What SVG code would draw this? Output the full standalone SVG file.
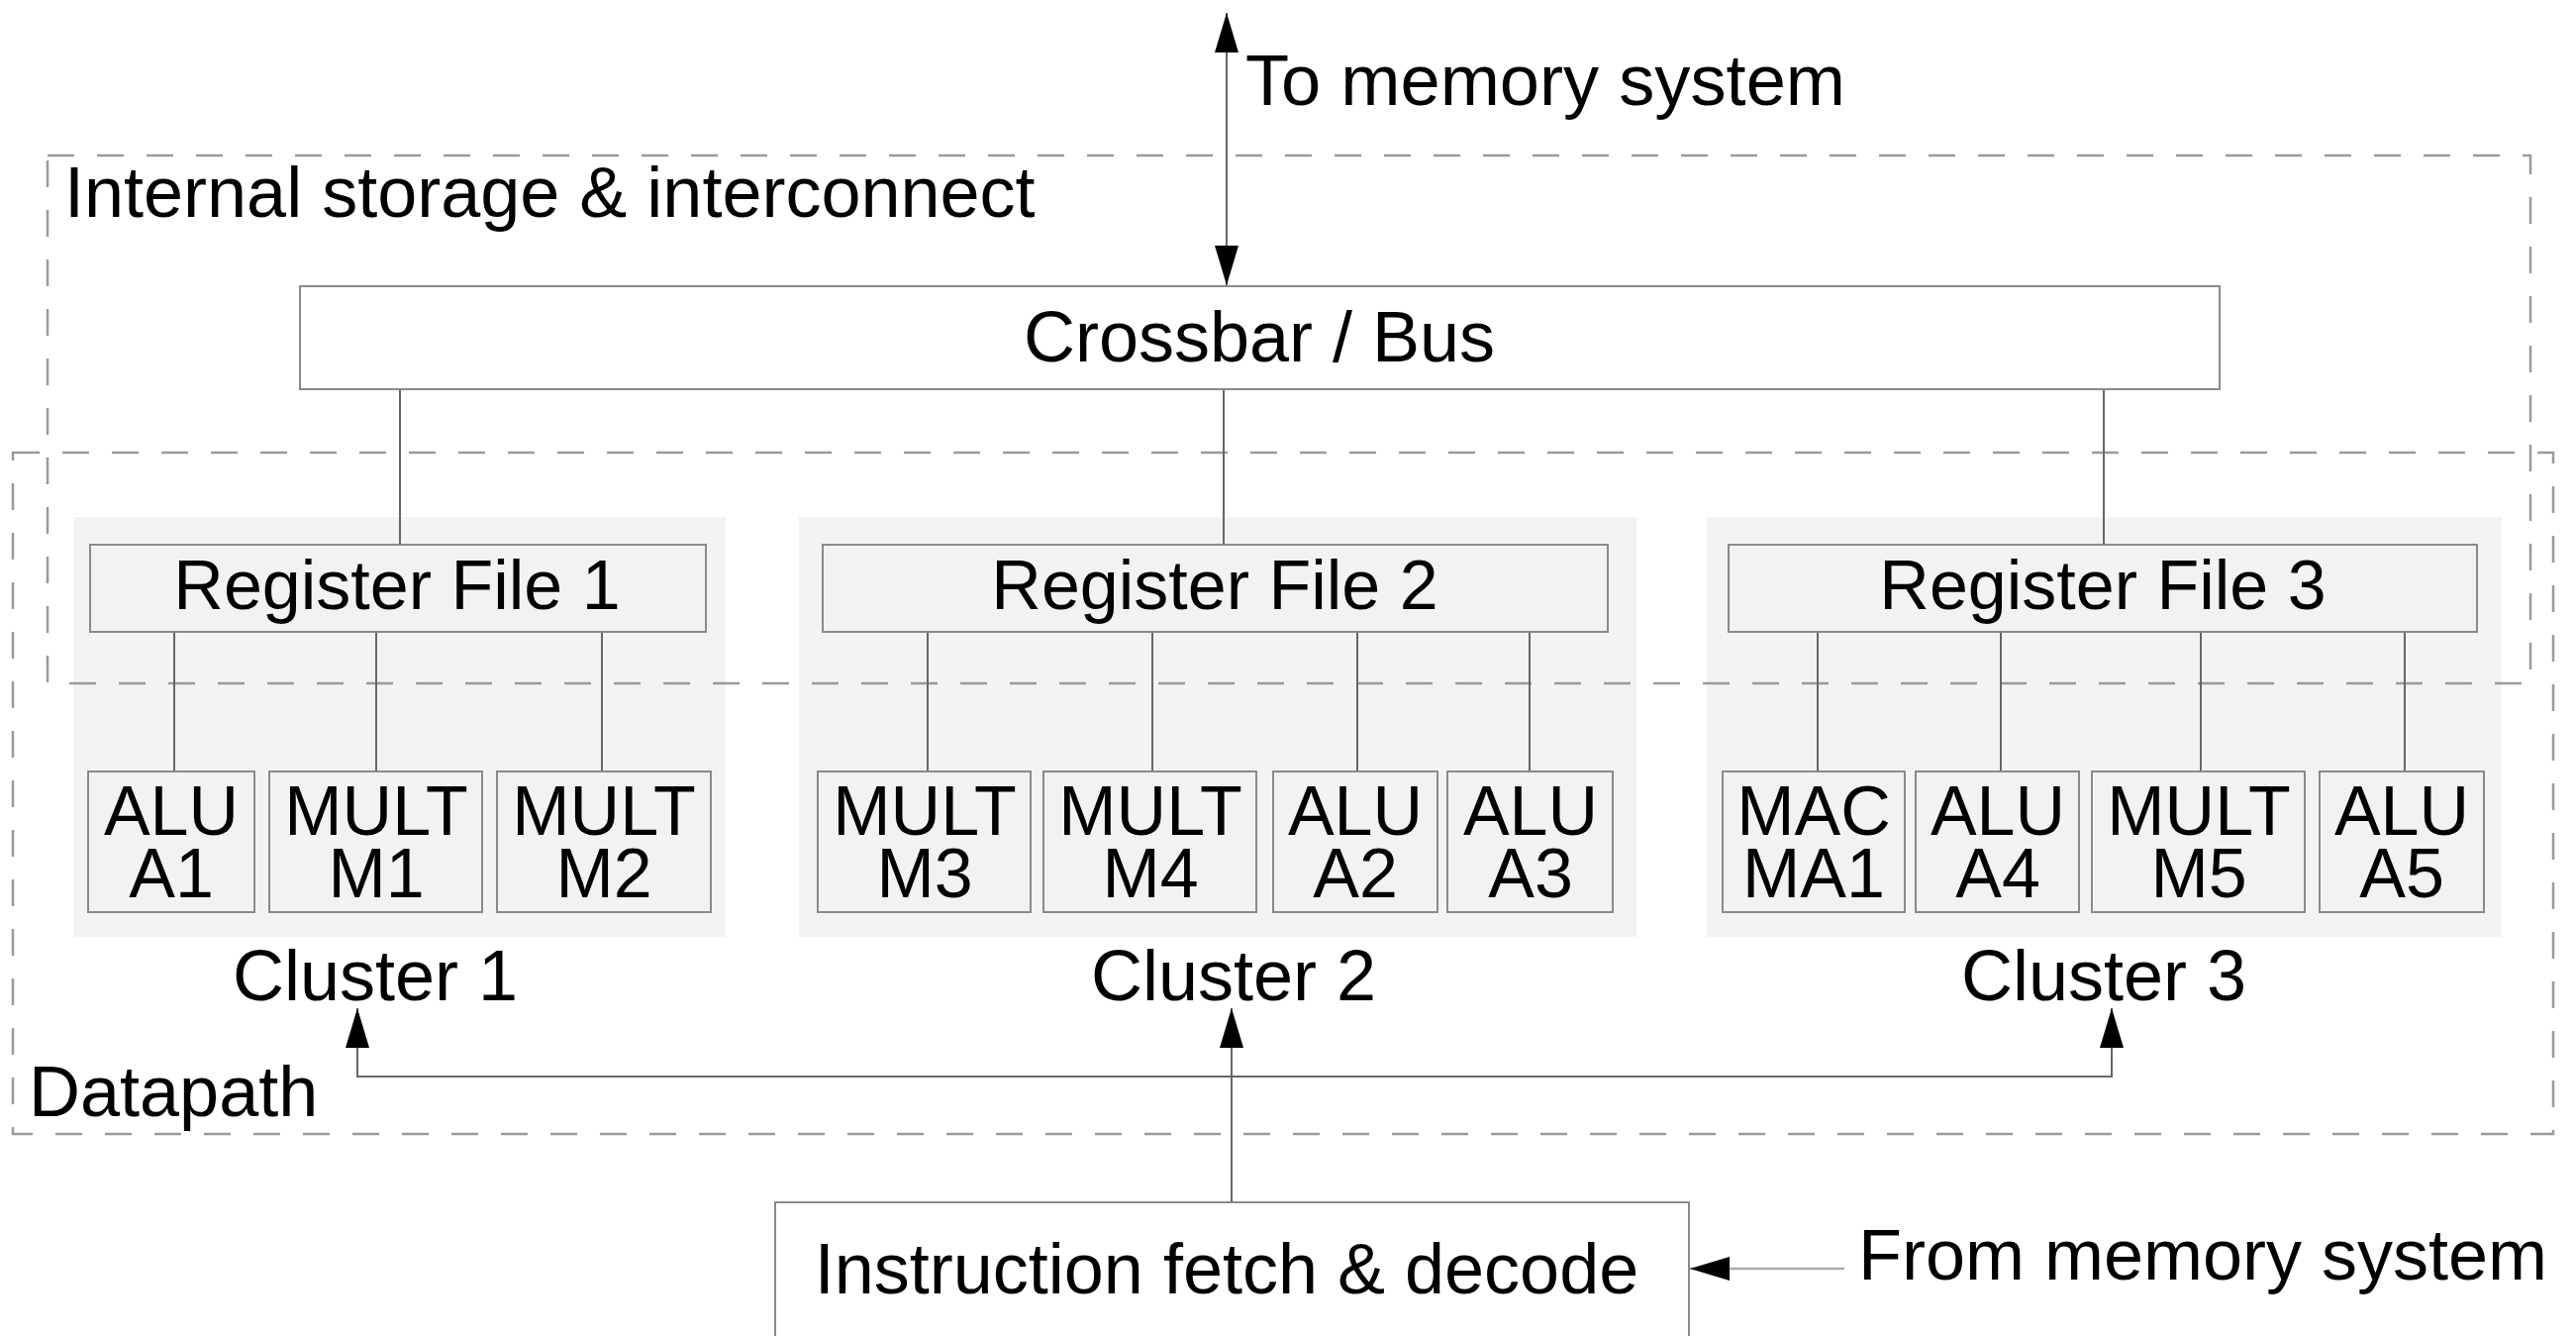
<svg xmlns="http://www.w3.org/2000/svg" width="2602" height="1349" viewBox="0 0 2602 1349">
<style>
text { font-family: "Liberation Sans", Arial, Helvetica, sans-serif; font-size: 72px; fill: #000; }
.m { text-anchor: middle; }
.fu { font-size: 70px; text-anchor: middle; }
.rf { font-size: 70px; text-anchor: middle; }
.dash { fill: none; stroke: #9a9a9a; stroke-width: 2.5; stroke-dasharray: 27 23; }
.bg { fill: #f3f3f3; stroke: none; }
.box { fill: #f2f2f2; stroke: #8a8a8a; stroke-width: 2; }
.wbox { fill: #ffffff; stroke: #8a8a8a; stroke-width: 2; }
.wire { fill: none; stroke: #666; stroke-width: 2; }
.light { fill: none; stroke: #aaa; stroke-width: 2.5; }
</style>
<defs>
<marker id="ah" markerUnits="userSpaceOnUse" markerWidth="40" markerHeight="24" refX="40" refY="12" orient="auto-start-reverse">
<path d="M0,0 L40,12 L0,24 Z" fill="#000"/>
</marker>
</defs>
<rect width="2602" height="1349" fill="#fff"/>

<g id="cluster1">
<rect class="bg" x="74" y="522" width="659" height="424"/>
<text class="m" x="379" y="1010">Cluster 1</text>
</g>
<g id="cluster2">
<rect class="bg" x="807" y="522" width="846" height="424"/>
<text class="m" x="1246" y="1010">Cluster 2</text>
</g>
<g id="cluster3">
<rect class="bg" x="1724" y="522" width="803" height="424"/>
<text class="m" x="2125" y="1010">Cluster 3</text>
</g>

<g id="internal-storage">
<rect class="dash" x="48" y="157" width="2508" height="533"/>
<text x="65" y="219">Internal storage &amp; interconnect</text>
</g>

<g id="datapath">
<rect class="dash" x="13" y="457" width="2566" height="688"/>
<text x="29" y="1127">Datapath</text>
</g>

<g id="connectors">
<path class="wire" d="M1239,288 V13" marker-start="url(#ah)" marker-end="url(#ah)"/>
<path class="wire" d="M404,393 V550 M1236,393 V550 M2125,393 V550"/>
<path class="wire" d="M176,638 V779 M380,638 V779 M608,638 V779"/>
<path class="wire" d="M937,638 V779 M1164,638 V779 M1371,638 V779 M1545,638 V779"/>
<path class="wire" d="M1836,638 V779 M2021,638 V779 M2223,638 V779 M2429,638 V779"/>
<path class="wire" d="M1244,1214 V1018" marker-end="url(#ah)"/>
<path class="wire" d="M1244,1087 H361 V1018" marker-end="url(#ah)"/>
<path class="wire" d="M1244,1087 H2133 V1018" marker-end="url(#ah)"/>
<path class="light" d="M1863,1281 H1707" marker-end="url(#ah)"/>
</g>

<g id="to-memory">
<text x="1258" y="106" textLength="606" lengthAdjust="spacingAndGlyphs">To memory system</text>
</g>

<g id="crossbar">
<rect class="wbox" x="303" y="289" width="1939" height="104"/>
<text class="m" x="1272" y="365">Crossbar / Bus</text>
</g>

<g id="rf1">
<rect class="box" x="91" y="550" width="622" height="88"/>
<text class="rf" x="401" y="615">Register File 1</text>
</g>
<g id="rf2">
<rect class="box" x="831" y="550" width="793" height="88"/>
<text class="rf" x="1227" y="615">Register File 2</text>
</g>
<g id="rf3">
<rect class="box" x="1746" y="550" width="756" height="88"/>
<text class="rf" x="2124" y="615">Register File 3</text>
</g>

<g id="alu-a1">
<rect class="box" x="89" y="779" width="168" height="142"/>
<text class="fu"><tspan x="173" y="843">ALU</tspan><tspan x="173" y="906">A1</tspan></text>
</g>
<g id="mult-m1">
<rect class="box" x="272" y="779" width="215" height="142"/>
<text class="fu"><tspan x="380" y="843">MULT</tspan><tspan x="380" y="906">M1</tspan></text>
</g>
<g id="mult-m2">
<rect class="box" x="502" y="779" width="216" height="142"/>
<text class="fu"><tspan x="610" y="843">MULT</tspan><tspan x="610" y="906">M2</tspan></text>
</g>

<g id="mult-m3">
<rect class="box" x="826" y="779" width="215" height="142"/>
<text class="fu"><tspan x="934" y="843">MULT</tspan><tspan x="934" y="906">M3</tspan></text>
</g>
<g id="mult-m4">
<rect class="box" x="1054" y="779" width="215" height="142"/>
<text class="fu"><tspan x="1162" y="843">MULT</tspan><tspan x="1162" y="906">M4</tspan></text>
</g>
<g id="alu-a2">
<rect class="box" x="1286" y="779" width="166" height="142"/>
<text class="fu"><tspan x="1369" y="843">ALU</tspan><tspan x="1369" y="906">A2</tspan></text>
</g>
<g id="alu-a3">
<rect class="box" x="1462" y="779" width="167" height="142"/>
<text class="fu"><tspan x="1546" y="843">ALU</tspan><tspan x="1546" y="906">A3</tspan></text>
</g>

<g id="mac-ma1">
<rect class="box" x="1740" y="779" width="184" height="142"/>
<text class="fu"><tspan x="1832" y="843">MAC</tspan><tspan x="1832" y="906">MA1</tspan></text>
</g>
<g id="alu-a4">
<rect class="box" x="1935" y="779" width="165" height="142"/>
<text class="fu"><tspan x="2018" y="843">ALU</tspan><tspan x="2018" y="906">A4</tspan></text>
</g>
<g id="mult-m5">
<rect class="box" x="2113" y="779" width="215" height="142"/>
<text class="fu"><tspan x="2221" y="843">MULT</tspan><tspan x="2221" y="906">M5</tspan></text>
</g>
<g id="alu-a5">
<rect class="box" x="2343" y="779" width="166" height="142"/>
<text class="fu"><tspan x="2426" y="843">ALU</tspan><tspan x="2426" y="906">A5</tspan></text>
</g>

<g id="ifetch">
<rect class="wbox" x="783" y="1214" width="923" height="160"/>
<text class="m" x="1239" y="1306">Instruction fetch &amp; decode</text>
</g>

<g id="from-memory">
<text x="1877" y="1292">From memory system</text>
</g>
</svg>
